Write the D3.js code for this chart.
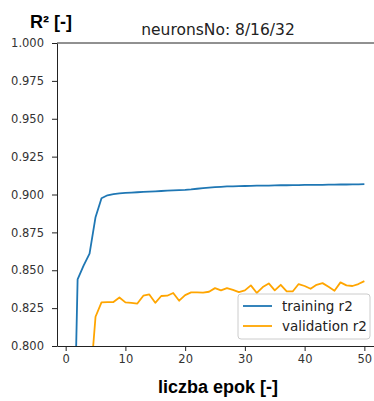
<!DOCTYPE html>
<html>
<head>
<meta charset="utf-8">
<script src="https://cdn.jsdelivr.net/npm/d3@7"></script>
<style>
body { margin: 0; background: #fff; }
</style>
</head>
<body>
<div id="chart"></div>
<script>
// r2 per epoch
var epochs = [1,2,3,4,5,6,7,8,9,10,11,12,13,14,15,16,17,18,19,20,21,22,23,24,25,
              26,27,28,29,30,31,32,33,34,35,36,37,38,39,40,41,42,43,44,45,46,47,48,49,50]
var trainingR2 = [0.66,0.844,0.853,0.861,0.885,0.8975,0.8995,0.9003,0.9008,0.9011,
                  0.9013,0.9015,0.9017,0.9019,0.9021,0.9023,0.9025,0.9027,0.9029,0.9031,
                  0.9034,0.9038,0.9042,0.9046,0.9049,0.9051,0.9053,0.9054,0.9055,0.9056,
                  0.9057,0.9058,0.9059,0.9059,0.9060,0.9061,0.9061,0.9062,0.9062,0.9063,
                  0.9063,0.9064,0.9064,0.9065,0.9065,0.9066,0.9066,0.9067,0.9067,0.9068]
var validationR2 = [0.55,0.68,0.74,0.77,0.8193,0.8288,0.829,0.829,0.832,0.8288,
                    0.8285,0.828,0.8332,0.834,0.8285,0.833,0.8332,0.835,0.8299,0.8336,
                    0.8354,0.8354,0.8352,0.8358,0.8382,0.8367,0.8382,0.837,0.8356,0.8367,
                    0.84,0.835,0.8389,0.8413,0.8367,0.8404,0.836,0.836,0.8409,0.8396,
                    0.8378,0.8404,0.8415,0.8391,0.8365,0.842,0.84,0.8396,0.8409,0.8428]
var xTicks = [0,10,20,30,40,50]
var yTicks = [0.800,0.825,0.850,0.875,0.900,0.925,0.950,0.975,1.000]
var seriesNames = ['training r2','validation r2']
var seriesColors = ['#1f77b4','#ffa500']

var W = 374, H = 401
// plot box (right edge falls outside the picture, as in the original)
var box = {'left': 57, 'right': 379, 'top': 43, 'bottom': 346}

var svg = d3.select('#chart').append('svg')
            .attr('width', W)
            .attr('height', H)

// matplotlib style 5% padding on x
var xPad = (d3.max(epochs) - d3.min(epochs)) * 0.05
var x = d3.scaleLinear()
            .domain([d3.min(epochs) - xPad, d3.max(epochs) + xPad])
            .range([box.left, box.right])
var y = d3.scaleLinear()
            .domain([0.8, 1.0])
            .range([box.bottom, box.top])

svg.append('clipPath').attr('id', 'plotClip')
    .append('rect')
    .attr('x', box.left).attr('y', box.top)
    .attr('width', box.right - box.left).attr('height', box.bottom - box.top)

var line = d3.line().x((d, i) => x(epochs[i])).y(d => y(d))

var plot = svg.append('g').attr('clip-path', 'url(#plotClip)')
;[trainingR2, validationR2].forEach(function(s, k){
    plot.append('path')
        .attr('d', line(s))
        .attr('fill', 'none')
        .attr('stroke', seriesColors[k])
        .attr('stroke-width', 1.8)
        .attr('stroke-linejoin', 'round')
})

// axes
var xAxis = svg.append('g')
    .attr('transform', 'translate(0,' + box.bottom + ')')
    .call(d3.axisBottom(x).tickValues(xTicks).tickSize(5).tickPadding(4).tickSizeOuter(0))
var yAxis = svg.append('g')
    .attr('transform', 'translate(' + box.left + ',0)')
    .call(d3.axisLeft(y).tickValues(yTicks).tickFormat(d3.format('.3f')).tickSize(5).tickPadding(8).tickSizeOuter(0))

;[xAxis, yAxis].forEach(function(a){
    a.select('.domain').attr('stroke', '#222').attr('stroke-width', 1)
    a.selectAll('.tick line').attr('stroke', '#222').attr('stroke-width', 1)
    a.selectAll('.tick text')
        .attr('fill', '#333')
        .attr('font-family', 'DejaVu Sans, sans-serif')
        .attr('font-size', '11.5px')
})

// top and right spines
svg.append('line').attr('x1', box.left).attr('x2', box.right).attr('y1', box.top).attr('y2', box.top)
    .attr('stroke', '#222').attr('stroke-width', 1)
svg.append('line').attr('x1', box.right).attr('x2', box.right).attr('y1', box.top).attr('y2', box.bottom)
    .attr('stroke', '#222').attr('stroke-width', 1)

// texts
svg.append('text')
    .text('neuronsNo: 8/16/32')
    .attr('x', (box.left + box.right) / 2).attr('y', 35)
    .attr('text-anchor', 'middle')
    .attr('fill', '#222')
    .attr('font-family', 'DejaVu Sans, sans-serif')
    .attr('font-size', '15.5px')
svg.append('text')
    .text('R\u00b2 [-]')
    .attr('x', 30).attr('y', 28)
    .attr('fill', 'black')
    .attr('font-family', 'Liberation Sans, Arial, sans-serif')
    .attr('font-weight', 'bold')
    .attr('font-size', '18px')
svg.append('text')
    .text('liczba epok [-]')
    .attr('x', (box.left + box.right) / 2).attr('y', 393)
    .attr('text-anchor', 'middle')
    .attr('fill', 'black')
    .attr('font-family', 'Liberation Sans, Arial, sans-serif')
    .attr('font-weight', 'bold')
    .attr('font-size', '18px')

// legend
var legend = svg.append('g').attr('transform', 'translate(238,294)')
legend.append('rect')
    .attr('width', 132).attr('height', 45)
    .attr('rx', 3)
    .attr('fill', 'white').attr('fill-opacity', 0.8)
    .attr('stroke', '#ccc')
seriesNames.forEach(function(n, k){
    var g = legend.append('g').attr('transform', 'translate(0,' + (12 + k * 20) + ')')
    g.append('line').attr('x1', 5).attr('x2', 34)
        .attr('stroke', seriesColors[k]).attr('stroke-width', 1.8)
    g.append('text').text(n)
        .attr('x', 44).attr('y', 5)
        .attr('fill', '#222')
        .attr('font-family', 'DejaVu Sans, sans-serif')
        .attr('font-size', '13.5px')
})
</script>
</body>
</html>
